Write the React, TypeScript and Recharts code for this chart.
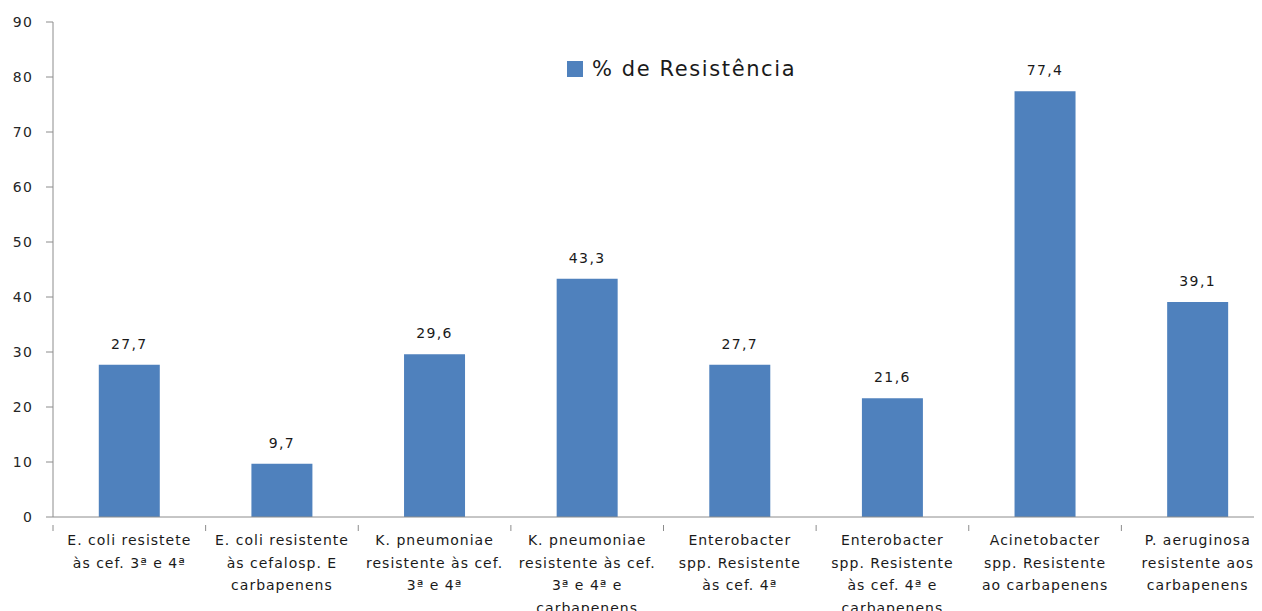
import { BarChart, Bar, XAxis, YAxis, Legend, LabelList } from 'recharts';

const categories = [
  'E. coli resistete\nàs cef. 3ª e 4ª',
  'E. coli resistente\nàs cefalosp. E\ncarbapenens',
  'K. pneumoniae\nresistente às cef.\n3ª e 4ª',
  'K. pneumoniae\nresistente às cef.\n3ª e 4ª e\ncarbapenens',
  'Enterobacter\nspp. Resistente\nàs cef. 4ª',
  'Enterobacter\nspp. Resistente\nàs cef. 4ª e\ncarbapenens',
  'Acinetobacter\nspp. Resistente\nao carbapenens',
  'P. aeruginosa\nresistente aos\ncarbapenens',
];

const resistance = [27.7, 9.7, 29.6, 43.3, 27.7, 21.6, 77.4, 39.1];

const yTicks = [0, 10, 20, 30, 40, 50, 60, 70, 80, 90];

const seriesName = '% de Resistência';

const chartData = categories.map((name, i) => ({
  name,
  value: resistance[i],
}));

const FONT = '"DejaVu Sans", Verdana, sans-serif';
const AXIS = '#8c8c8c';
const BLUE = '#4f81bd';
const CHART_W = 1266;
const PLOT_LEFT = 45;
const BAND = (CHART_W - PLOT_LEFT) / categories.length;

// category label split into lines + boundary tick mark like excel
function CategoryTick(props: any) {
  const { x, y, payload } = props;
  const lines = String(payload.value).split('\n');
  const left = x - BAND / 2;
  return (
    <g>
      <line x1={left} y1={y} x2={left} y2={y + 6} stroke={AXIS} />
      <text
        x={x}
        y={y + 16}
        textAnchor="middle"
        fontFamily={FONT}
        fontSize={14}
        letterSpacing={1}
        fill="#1a1a1a"
      >
        {lines.map((l, i) => (
          <tspan key={i} x={x} dy={i === 0 ? 0 : 22.5} dominantBaseline="middle">
            {l}
          </tspan>
        ))}
      </text>
    </g>
  );
}

function LegendBox() {
  return (
    <div style={{ display: 'flex', alignItems: 'center', fontFamily: FONT, fontSize: 21, letterSpacing: 1.6, color: '#1a1a1a' }}>
      <span style={{ width: 16, height: 16, background: BLUE, display: 'inline-block', marginRight: 9 }} />
      <span>{seriesName}</span>
    </div>
  );
}

export default function App() {
  return (
    <div style={{ width: 1254, height: 603, overflow: 'hidden', position: 'relative' }}>
      <BarChart
        width={CHART_W}
        height={640}
        data={chartData}
        margin={{ top: 14, right: 0, left: 0, bottom: 0 }}
        barCategoryGap="30%"
      >
        <XAxis
          dataKey="name"
          interval={0}
          height={131}
          stroke={AXIS}
          tickLine={false}
          tick={<CategoryTick />}
        />
        <YAxis
          domain={[0, 90]}
          ticks={yTicks}
          width={PLOT_LEFT}
          stroke={AXIS}
          tickSize={7}
          tickMargin={13}
          tick={{ fontFamily: FONT, fontSize: 14, letterSpacing: 1.2, fill: '#262626' }}
        />
        <Legend
          verticalAlign="middle"
          wrapperStyle={{ position: 'absolute', top: 49, left: 559, width: 'auto' }}
          content={<LegendBox />}
        />
        <Bar dataKey="value" name={seriesName} fill={BLUE} isAnimationActive={false}>
          <LabelList
            dataKey="value"
            position="top"
            offset={16}
            formatter={(v: any) => String(v).replace('.', ',')}
            style={{ fontFamily: FONT, fontSize: 14, letterSpacing: 1.4, fill: '#1a1a1a' }}
          />
        </Bar>
      </BarChart>
    </div>
  );
}
